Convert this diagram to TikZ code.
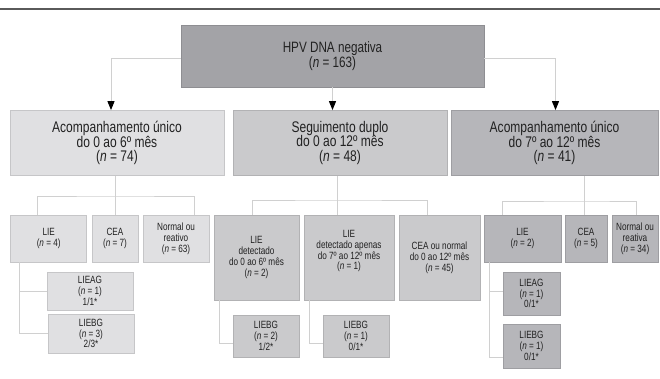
\documentclass[tikz,border=0pt]{standalone}
\usepackage{fontspec}
\setmainfont{Liberation Sans}[FakeStretch=0.78]
\usetikzlibrary{arrows.meta}
\definecolor{topfill}{HTML}{A3A3A7}
\definecolor{topdraw}{HTML}{8E8E92}
\definecolor{gAfill}{HTML}{E0E0E2}
\definecolor{gAdraw}{HTML}{C6C6C8}
\definecolor{gBfill}{HTML}{CACACC}
\definecolor{gBdraw}{HTML}{B2B2B4}
\definecolor{gCfill}{HTML}{B6B6BA}
\definecolor{gCdraw}{HTML}{9E9EA2}
\definecolor{connc}{HTML}{D0D0D0}
\definecolor{rulec}{HTML}{5A5A5A}
\definecolor{txt}{HTML}{222222}
\begin{document}
\begin{tikzpicture}[x=1pt,y=-1pt,
  box/.style={rectangle, inner sep=0pt, align=center, line width=0.8pt, text=txt},
  big/.style={box, font=\fontsize{15.4}{14.8}\selectfont},
  topbig/.style={box, font=\fontsize{15}{15}\selectfont, fill=topfill, draw=topdraw},
  small/.style={box, font=\fontsize{10.5}{10.8}\selectfont},
  grpA/.style={fill=gAfill, draw=gAdraw},
  grpB/.style={fill=gBfill, draw=gBdraw},
  grpC/.style={fill=gCfill, draw=gCdraw},
  conn/.style={draw=connc, line width=1pt},
  arr/.style={conn, arrows={-{Triangle[width=7pt,length=9pt,fill=black,color=black]}}}
]
\useasboundingbox (0,0) rectangle (660,378);
\fill[white] (0,0) rectangle (660,378);
\coordinate (ruleL) at (0,9);
\coordinate (ruleR) at (660,9);
\draw[rulec, line width=1.8pt] (ruleL) -- (ruleR);

% top
\node[topbig, minimum width=303pt, minimum height=62pt] (top) at (332.5,56) {HPV DNA negativa\\(\textit{n} = 163)};

% level 2
\node[big, grpA, minimum width=214pt, minimum height=65pt] (a) at (117,143) {Acompanhamento único\\do 0 ao 6º mês\\(\textit{n} = 74)};
\node[big, grpB, minimum width=214pt, minimum height=65pt] (b) at (340,143) {Seguimento duplo\\do 0 ao 12º mês\\(\textit{n} = 48)};
\node[big, grpC, minimum width=207pt, minimum height=65pt] (c) at (554.5,143) {Acompanhamento único\\do 7º ao 12º mês\\(\textit{n} = 41)};

% level 3 left
\node[small, grpA, minimum width=76pt, minimum height=47pt] (a1) at (48.7,238.5) {LIE\\(\textit{n} = 4)};
\node[small, grpA, minimum width=46pt, minimum height=47pt] (a2) at (115,238.5) {CEA\\(\textit{n} = 7)};
\node[small, grpA, minimum width=66pt, minimum height=47pt] (a3) at (176,238.5) {Normal ou\\reativo\\(\textit{n} = 63)};
\node[small, grpA, minimum width=86pt, minimum height=38pt] (a4) at (90,291) {LIEAG\\(\textit{n} = 1)\\1/1*};
\node[small, grpA, minimum width=86pt, minimum height=39pt] (a5) at (91,333.5) {LIEBG\\(\textit{n} = 3)\\2/3*};

% level 3 middle
\node[small, grpB, minimum width=85pt, minimum height=85pt] (b1) at (256.5,257.5) {LIE\\detectado\\do 0 ao 6º mês\\(\textit{n} = 2)};
\node[small, grpB, minimum width=90pt, minimum height=85pt] (b2) at (349,257.5) {LIE\\detectado apenas\\do 7º ao 12º mês\\(\textit{n} = 1)\\[4pt]};
\node[small, grpB, minimum width=81pt, minimum height=85pt] (b3) at (439.5,257.5) {CEA ou normal\\do 0 ao 12º mês\\(\textit{n} = 45)};
\node[small, grpB, minimum width=66pt, minimum height=42pt] (b4) at (266,336) {LIEBG\\(\textit{n} = 2)\\1/2*};
\node[small, grpB, minimum width=66pt, minimum height=42pt] (b5) at (356,336) {LIEBG\\(\textit{n} = 1)\\0/1*};

% level 3 right
\node[small, grpC, minimum width=77pt, minimum height=47pt] (c1) at (522.5,238.5) {LIE\\(\textit{n} = 2)};
\node[small, grpC, minimum width=42pt, minimum height=47pt] (c2) at (586,238.5) {CEA\\(\textit{n} = 5)};
\node[small, grpC, minimum width=46pt, minimum height=47pt] (c3) at (635,238.5) {Normal ou\\reativa\\(\textit{n} = 34)};
\node[small, grpC, minimum width=57pt, minimum height=43pt] (c4) at (531.5,293.5) {LIEAG\\(\textit{n} = 1)\\0/1*};
\node[small, grpC, minimum width=57pt, minimum height=44pt] (c5) at (531.5,346) {LIEBG\\(\textit{n} = 1)\\0/1*};

% connectors top -> level 2
\draw[arr] ([yshift=-2pt]top.west) -| ([xshift=-6pt]a.north);
\draw[arr] (top.south) -- (b.north -| top.south);
\draw[arr] ([yshift=-2pt]top.east) -| ([xshift=1pt]c.north);

% left group
\coordinate (busA) at (115,196);
\draw[conn] (a.south -| a2.north) -- (a2.north);
\draw[conn] ([xshift=-11pt]a1.north) |- (busA) -| ([xshift=18pt]a3.north);
\draw[conn] ([xshift=-29.4pt]a1.south) |- (a4.west);
\draw[conn] ([xshift=-29.4pt]a1.south) |- (a5.west);

% middle group
\coordinate (busB) at (337,200);
\draw[conn] (b.south -| busB) -- (b2.north -| busB);
\draw[conn] ([xshift=-4pt]b1.north) |- (busB) -| ([xshift=-12.5pt]b3.north);
\draw[conn] ([xshift=-37.5pt]b1.south) |- ([yshift=-7pt]b4.west);
\draw[conn] ([xshift=-40pt]b2.south) |- ([yshift=-7pt]b5.west);

% right group
\coordinate (busC) at (584,201);
\draw[conn] (c.south -| busC) -- (c2.north -| busC);
\draw[conn] ([xshift=-20.5pt]c1.north) |- (busC) -| ([xshift=1pt]c3.north);
\draw[conn] ([xshift=-33.5pt]c1.south) |- ([yshift=2.5pt]c4.west);
\draw[conn] ([xshift=-33.5pt]c1.south) |- ([yshift=-11pt]c5.west);
\end{tikzpicture}
\end{document}
